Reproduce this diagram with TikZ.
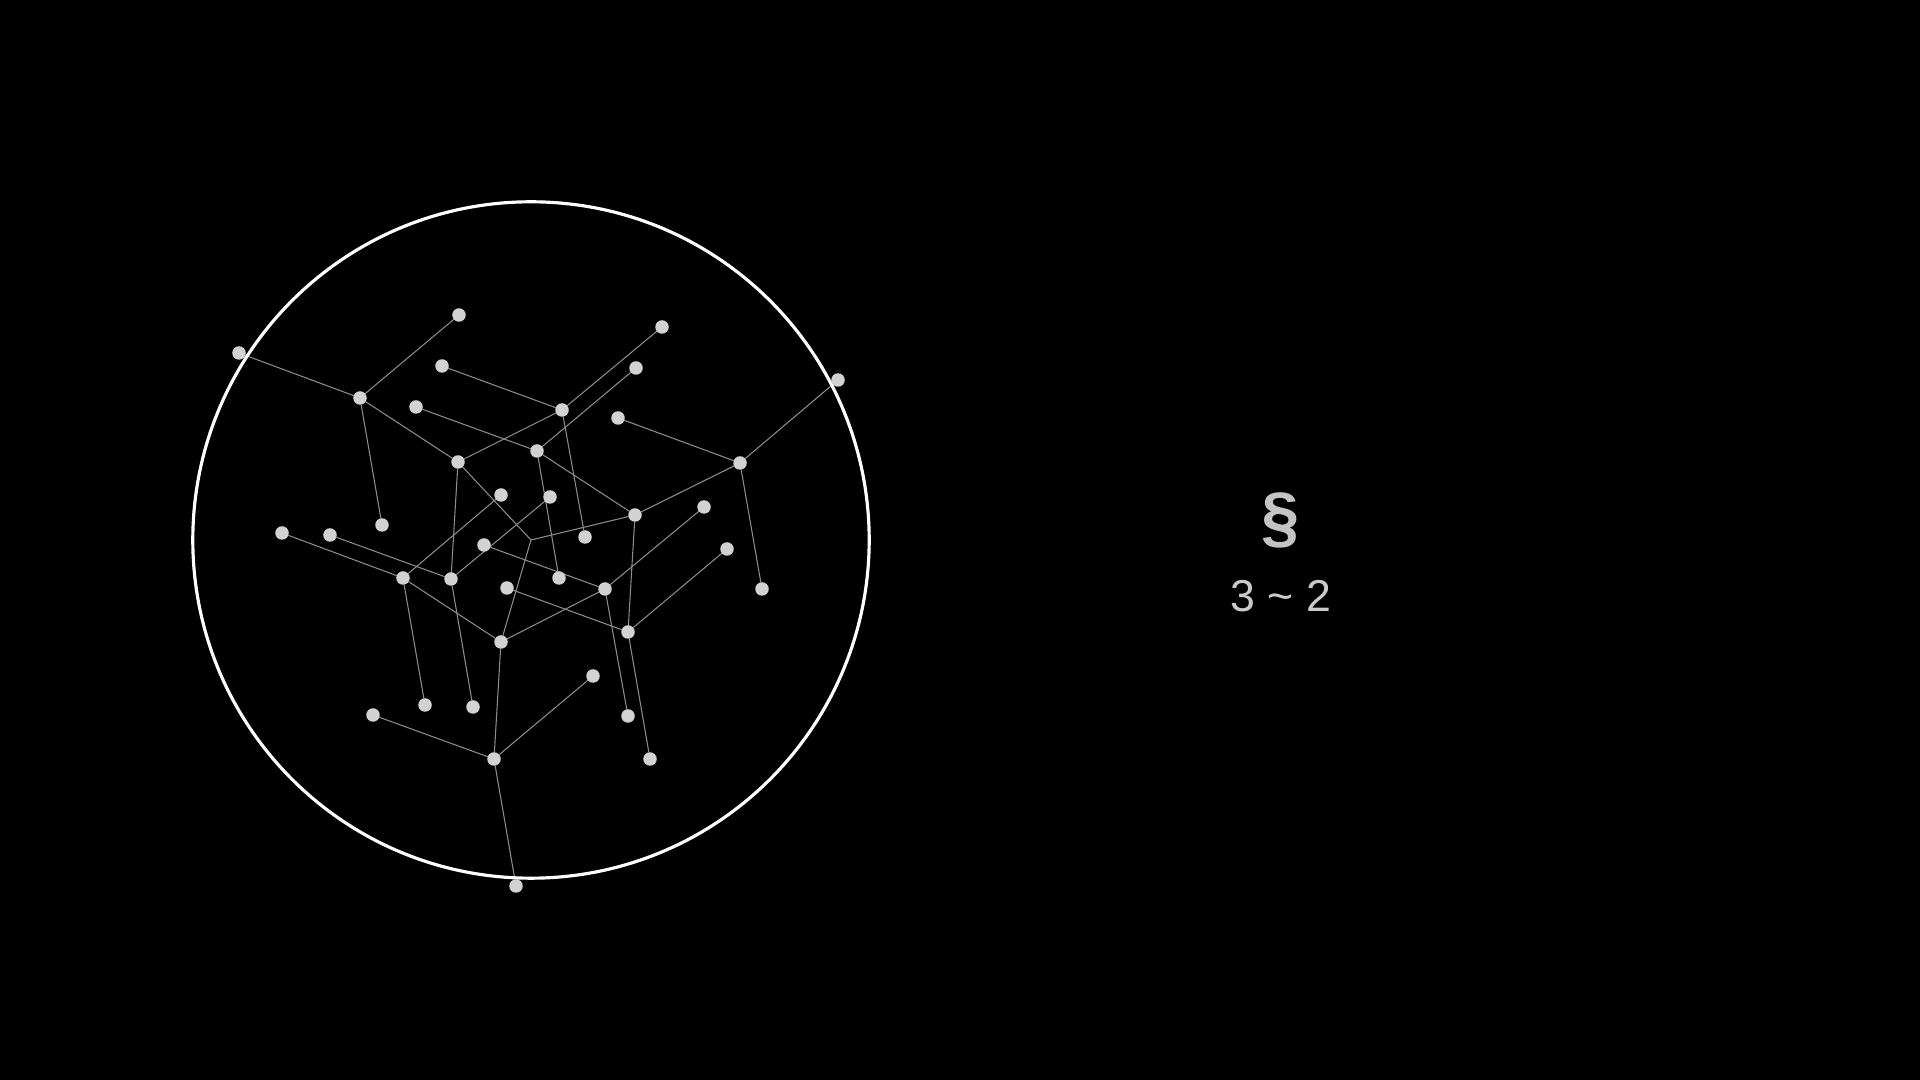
\documentclass[tikz,border=0pt]{standalone}
\usepackage{fontspec}
\setmainfont{Liberation Sans}
\usepackage{tikz}
\usepackage{tkz-graph}
\usetikzlibrary{backgrounds}

\definecolor{dotgray}{HTML}{D2D2D2}
\definecolor{linegray}{HTML}{8C8C8C}
\definecolor{textgray}{HTML}{C4C4C4}

\begin{document}
\begin{tikzpicture}[x=0.01cm,y=-0.01cm,
                rim/.style={draw=white,line width=0.9pt},
                paramark/.style={text=textgray,font=\bfseries\fontsize{19.5}{20}\selectfont,inner sep=0pt},
                rangetext/.style={text=textgray!90,font=\fontsize{12.7}{14}\selectfont,inner sep=0pt}]
                \begin{scope}[on background layer]
                \fill[black] (0,0) rectangle (1920,1080);
                \end{scope}
                \useasboundingbox (0,0) rectangle (1920,1080);
                \GraphInit[vstyle=normal]
                \SetVertexNoLabel
                \tikzset{VertexStyle/.style={shape=circle,fill=dotgray,draw=none,
                                minimum size=0.135cm,inner sep=0pt},
                         EdgeStyle/.style={draw=linegray,line width=0.3pt}}
                \draw[rim] (531,540) circle (3.38cm);
                \coordinate (o) at (531,540);
                % hubs
                \Vertex[x=458,y=462]{f}
                \Vertex[x=635,y=515]{u}
                \Vertex[x=501,y=642]{ae}
                \Vertex[x=360,y=398]{b}
                \Vertex[x=562,y=410]{h}
                \Vertex[x=451,y=579]{z}
                \Vertex[x=537,y=451]{g}
                \Vertex[x=740,y=463]{s}
                \Vertex[x=628,y=632]{ad}
                \Vertex[x=403,y=578]{y}
                \Vertex[x=605,y=589]{ab}
                \Vertex[x=494,y=759]{ai}
                % leaves
                \Vertex[x=239,y=353]{a}
                \Vertex[x=459,y=315]{c}
                \Vertex[x=382,y=525]{k}
                \Vertex[x=442,y=366]{d}
                \Vertex[x=662,y=327]{p}
                \Vertex[x=585,y=537]{v}
                \Vertex[x=550,y=497]{j}
                \Vertex[x=330,y=535]{m}
                \Vertex[x=473,y=707]{ag}
                \Vertex[x=416,y=407]{e}
                \Vertex[x=636,y=368]{q}
                \Vertex[x=559,y=578]{aa}
                \Vertex[x=618,y=418]{r}
                \Vertex[x=838,y=380]{t}
                \Vertex[x=762,y=589]{am}
                \Vertex[x=507,y=588]{ac}
                \Vertex[x=727,y=549]{x}
                \Vertex[x=650,y=759]{al}
                \Vertex[x=501,y=495]{i}
                \Vertex[x=282,y=533]{l}
                \Vertex[x=425,y=705]{af}
                \Vertex[x=484,y=545]{n}
                \Vertex[x=704,y=507]{w}
                \Vertex[x=628,y=716]{ak}
                \Vertex[x=373,y=715]{ah}
                \Vertex[x=593,y=676]{aj}
                \Vertex[x=516,y=886]{an}
                \begin{scope}[on background layer]
                \Edge(o)(f)
                \Edge(o)(u)
                \Edge(o)(ae)
                \Edge(f)(b)
                \Edge(f)(h)
                \Edge(f)(z)
                \Edge(u)(g)
                \Edge(u)(s)
                \Edge(u)(ad)
                \Edge(ae)(y)
                \Edge(ae)(ab)
                \Edge(ae)(ai)
                \Edge(b)(a)
                \Edge(b)(c)
                \Edge(b)(k)
                \Edge(h)(d)
                \Edge(h)(p)
                \Edge(h)(v)
                \Edge(z)(j)
                \Edge(z)(m)
                \Edge(z)(ag)
                \Edge(g)(e)
                \Edge(g)(q)
                \Edge(g)(aa)
                \Edge(s)(r)
                \Edge(s)(t)
                \Edge(s)(am)
                \Edge(ad)(ac)
                \Edge(ad)(x)
                \Edge(ad)(al)
                \Edge(y)(i)
                \Edge(y)(l)
                \Edge(y)(af)
                \Edge(ab)(n)
                \Edge(ab)(w)
                \Edge(ab)(ak)
                \Edge(ai)(ah)
                \Edge(ai)(aj)
                \Edge(ai)(an)
                \end{scope}
                \node[paramark] (para) at (1281,520) {§};
                \node[rangetext] (span) at (1281,596) {3 \textasciitilde{} 2};
            \end{tikzpicture}
\end{document}
